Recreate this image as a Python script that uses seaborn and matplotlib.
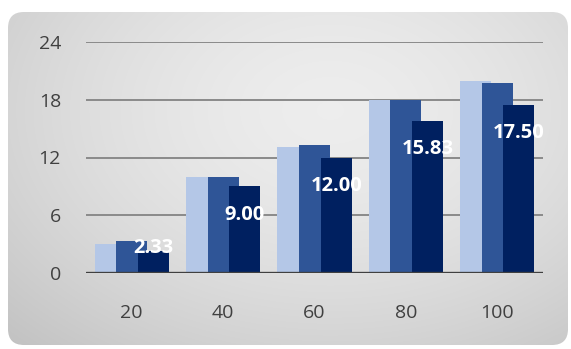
import numpy as np
import pandas as pd
import matplotlib
matplotlib.use("Agg")
import matplotlib.pyplot as plt
from matplotlib.patches import FancyBboxPatch
import seaborn as sns

# Chart data
categories = ["20", "40", "60", "80", "100"]
series_names = ["Series 1", "Series 2", "Series 3"]
series_1 = [3.0, 10.0, 13.1, 18.0, 20.0]
series_2 = [3.33, 10.0, 13.3, 18.0, 19.7]
series_3 = [2.33, 9.00, 12.00, 15.83, 17.50]
y_ticks = [0, 6, 12, 18, 24]

colors = ["#B4C7E7", "#2F5597", "#002060"]

df = pd.DataFrame({
    "category": categories * 3,
    "series": sum([[s] * len(categories) for s in series_names], []),
    "value": series_1 + series_2 + series_3,
})

sns.set_theme(style="white")
plt.rcParams["font.family"] = ["Open Sans", "DejaVu Sans"]

W, H = 571, 349
fig = plt.figure(figsize=(W / 100, H / 100), dpi=100)
fig.patch.set_facecolor("white")

# Rounded grey panel behind the chart, shaded with a soft gradient
bg = fig.add_axes([0, 0, 1, 1], zorder=-10)
bg.set_xlim(0, W)
bg.set_ylim(H, 0)
bg.axis("off")
yy, xx = np.mgrid[0:H, 0:W]
r = np.sqrt(((xx - 330) / 430.0) ** 2 + ((yy - 110) / 300.0) ** 2)
shade = 0.93 - 0.15 * np.clip(r, 0, 1.2) ** 1.6
img = np.dstack([shade, shade, shade])
im = bg.imshow(img, extent=(0, W, H, 0), interpolation="bilinear", zorder=0)
panel = FancyBboxPatch((8, 12), 560, 333, boxstyle="round,pad=0,rounding_size=16",
                       transform=bg.transData, facecolor="none", edgecolor="none")
bg.add_patch(panel)
im.set_clip_path(panel)

# Plot area
left, right = 86 / W, 543 / W
bottom, top = 1 - 273 / H, 1 - 42 / H
ax = fig.add_axes([left, bottom, right - left, top - bottom])
ax.set_facecolor("none")

sns.barplot(data=df, x="category", y="value", hue="series", order=categories,
            hue_order=series_names, palette=colors, width=0.71, saturation=1,
            dodge=True, legend=False, ax=ax, zorder=3)

# Widen bars so neighbouring series overlap slightly
new_w = 0.34
for p in ax.patches:
    cx = p.get_x() + p.get_width() / 2
    p.set_width(new_w)
    p.set_x(cx - new_w / 2)
    p.set_linewidth(0)

ax.set_ylim(0, 24)
ax.set_xlim(-0.5, len(categories) - 0.5)
ax.set_yticks(y_ticks)
ax.set_yticklabels([str(t) for t in y_ticks])
ax.set_xlabel("")
ax.set_ylabel("")
for s in ax.spines.values():
    s.set_visible(False)
for t in y_ticks[1:]:
    ax.axhline(t, color="#8a8a8a", lw=1.4, zorder=1)
ax.axhline(0, color="#404040", lw=2.4, zorder=4)
ax.tick_params(axis="y", length=0, pad=18, labelsize=14, labelcolor="#404040")
ax.tick_params(axis="x", length=0, pad=22, labelsize=14, labelcolor="#404040")

# Value labels on the darkest series
dark_bars = [p for p in ax.patches][2 * len(categories):3 * len(categories)]
for p, v in zip(dark_bars, series_3):
    cx = p.get_x() + p.get_width() / 2
    ypos = v - 2.95 if v - 2.95 > 1.5 else v + 0.3
    ax.text(cx, ypos, f"{v:.2f}", ha="center", va="center", color="white",
            fontsize=14.5, fontweight="bold", zorder=6)

fig.savefig("out.png", dpi=100)
